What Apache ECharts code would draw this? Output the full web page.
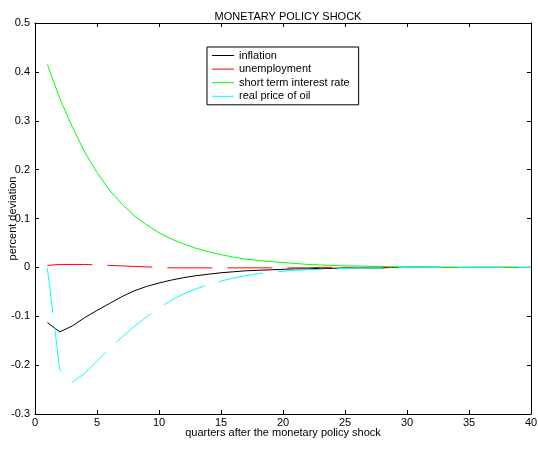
<!DOCTYPE html>
<html><head><meta charset="utf-8">
<script src="https://cdn.jsdelivr.net/npm/echarts@6/dist/echarts.min.js"></script>
<style>html,body{margin:0;padding:0;background:#fff}#c{width:538px;height:449px}</style>
</head><body><div id="c"></div>
<script>
const quarters = [1,2,3,4,5,6,7,8,9,10,11,12,13,14,15,16,17,18,19,20,21,22,23,24,25,26,27,28,29,30,31,32,33,34,35,36,37,38,39,40];
const inflation = [-0.113,-0.132,-0.120,-0.103,-0.088,-0.074,-0.060,-0.048,-0.039,-0.032,-0.026,-0.021,-0.017,-0.014,-0.011,-0.009,-0.007,-0.006,-0.005,-0.004,-0.003,-0.003,-0.002,-0.002,-0.001,-0.001,-0.001,-0.001,0,0,0,0,0,0,0,0,0,0,0,0];
const unemployment = [0.004,0.006,0.006,0.006,0.005,0.004,0.003,0.002,0.001,0.000,-0.001,-0.001,-0.001,-0.001,-0.001,-0.001,-0.001,-0.001,-0.001,-0.001,-0.001,-0.001,0,0,0,0,0,0,0,0,0,0,0,0,0,0,0,0,0,0];
const interestRate = [0.415,0.345,0.288,0.236,0.194,0.158,0.130,0.106,0.087,0.071,0.058,0.048,0.039,0.032,0.026,0.021,0.017,0.014,0.012,0.010,0.008,0.006,0.005,0.004,0.003,0.003,0.002,0.002,0.001,0.001,0.001,0.001,0,0,0,0,0,0,0,0];
const oilPrice = [-0.002,-0.210,-0.235,-0.217,-0.192,-0.167,-0.143,-0.121,-0.101,-0.083,-0.067,-0.054,-0.044,-0.035,-0.028,-0.022,-0.017,-0.013,-0.010,-0.008,-0.006,-0.005,-0.004,-0.003,-0.002,-0.001,-0.001,-0.001,-0.001,0,0,0,0,0,0,0,0,0,0,0];
const seriesNames = ['inflation','unemployment','short term interest rate','real price of oil'];
const seriesColors = ['#000000','#ff0000','#00ff00','#00ffff'];
const xTicks = [0,5,10,15,20,25,30,35,40];

const pairs = arr => quarters.map((q,i)=>[q, arr[i]]);
const font = 'Liberation Sans, Arial, sans-serif';
const chart = echarts.init(document.getElementById('c'));
function mk(name, arr, color, dashed){
  return {name, type:'line', data:pairs(arr), symbol:'none', smooth:false,
    lineStyle:{color, width:1, type: dashed ? [45,15] : 'solid'}, itemStyle:{color}, animation:false, z:3};
}
const axisCommon = () => ({
  axisLine:{show:true, onZero:false, lineStyle:{color:'#000', width:1}},
  axisTick:{show:true, inside:true, length:4, lineStyle:{color:'#000'}},
  splitLine:{show:false}
});
chart.setOption({
  animation:false,
  backgroundColor:'#fff',
  title:{text:'MONETARY POLICY SHOCK', left:283, top:6, textAlign:'center',
    textStyle:{fontFamily:font, fontSize:11, fontWeight:'normal', color:'#000'}},
  grid:{left:35, right:7, top:23, bottom:35, containLabel:false, outerBoundsMode:'none'},
  legend:{
    show:true, left:207, top:47, orient:'vertical', itemWidth:22, itemHeight:1, itemGap:2.6,
    borderColor:'#000', borderWidth:1, padding:[3,9,3,5], backgroundColor:'#fff',
    icon:'rect',
    textStyle:{fontFamily:font, fontSize:11, color:'#000'},
    data: seriesNames.map((n,i)=>({name:n, itemStyle:{color:seriesColors[i]}}))
  },
  xAxis:[
    Object.assign({type:'value', min:0, max:40, interval:5, position:'bottom',
      name:'quarters after the monetary policy shock', nameLocation:'middle', nameGap:13, nameMoveOverlap:false,
      nameTextStyle:{fontFamily:font, fontSize:11, color:'#000'},
      axisLabel:{fontFamily:font, fontSize:11, color:'#000', margin:3,
        formatter: v => xTicks.includes(v) ? String(v) : ''}}, axisCommon()),
    Object.assign({type:'value', min:0, max:40, interval:5, position:'top', axisLabel:{show:false}}, axisCommon())
  ],
  yAxis:[
    Object.assign({type:'value', min:-0.3, max:0.5, interval:0.1, position:'left',
      name:'percent deviation', nameLocation:'middle', nameGap:17, nameMoveOverlap:false,
      nameTextStyle:{fontFamily:font, fontSize:11, color:'#000'},
      axisLabel:{fontFamily:font, fontSize:11, color:'#000', margin:5,
        formatter: v => { const r = Math.round(v*10)/10; return r===0 ? '0' : String(r); }}}, axisCommon()),
    Object.assign({type:'value', min:-0.3, max:0.5, interval:0.1, position:'right', axisLabel:{show:false}}, axisCommon())
  ],
  series:[
    mk(seriesNames[0], inflation, seriesColors[0], false),
    mk(seriesNames[1], unemployment, seriesColors[1], true),
    mk(seriesNames[2], interestRate, seriesColors[2], false),
    mk(seriesNames[3], oilPrice, seriesColors[3], true)
  ]
});
</script></body></html>
